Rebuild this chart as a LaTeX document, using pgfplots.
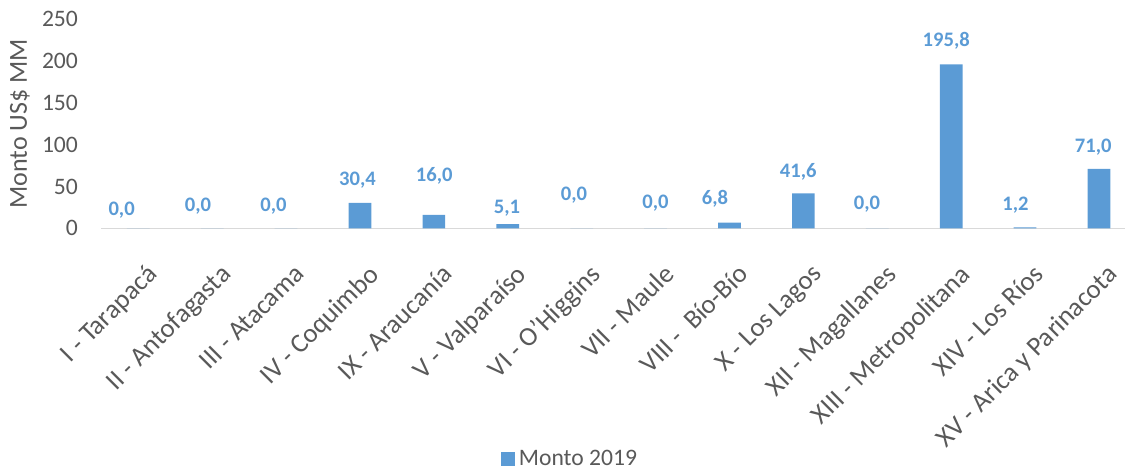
\documentclass[border=0pt]{standalone}
\usepackage{pgfplots}
\pgfplotsset{compat=1.18}
\usepackage{pgfplotstable}
\usepackage{fontspec}
\setmainfont{Carlito}
\definecolor{barblue}{HTML}{5B9BD5}
\definecolor{txtgray}{HTML}{595959}
\definecolor{axgray}{HTML}{D9D9D9}
\pgfplotstableread{
x y dx dy
0 0 -8.3 9.15
1 0 -7.1 11.15
2 0 -6.25 11.15
3 30.4 -1.25 11.55
4 16.0 0.2 19.7
5 5.1 -0.4 8.1
6 0 -3.85 16.4
7 0 0 12.65
8 6.8 -7.25 12.15
9 41.6 -2.55 10.9
10 0 -5.15 12.15
11 195.8 -2.45 11.75
12 1.2 -4.8 11.15
13 71.0 -2.85 10.9
}\datatable
\begin{document}
\begin{tikzpicture}
\begin{axis}[
  at={(0pt,0pt)}, anchor=south west,
  scale only axis,
  width=511.85pt, height=104.7pt,
  xmin=-0.5, xmax=13.352,
  ymin=0, ymax=250,
  ytick={0,50,100,150,200,250},
  xtick={0,...,13},
  xticklabels={I - Tarapacá, II - Antofagasta, III - Atacama, IV - Coquimbo, IX - Araucanía, V - Valparaíso, VI - O'Higgins, VII - Maule, VIII -\ \ Bío-Bío, X - Los Lagos, XII - Magallanes, XIII - Metropolitana, XIV - Los Ríos, XV - Arica y Parinacota},
  axis lines*=left,
  x axis line style={draw=axgray, line width=0.8pt},
  y axis line style={draw=none},
  major tick length=0pt,
  /pgf/number format/assume math mode=true,
  yticklabel style={font=\fontsize{11.8}{13}\selectfont, text=txtgray, inner sep=0pt, xshift=-11.5pt},
  xticklabel style={font=\fontsize{13.4}{15}\selectfont, text=txtgray, inner sep=0pt, anchor=north east, xshift=3.5pt, yshift=-17pt, rotate=45},
  every axis y label/.style={at={(axis description cs:-0.0794,0.5)}, anchor=center, rotate=90, font=\fontsize{13}{15}\selectfont, text=txtgray},
  ylabel={Monto US\$ MM},
  legend style={at={(0.4588,-1.1017)}, anchor=center, draw=none, font=\fontsize{11.8}{13}\selectfont, text=txtgray, inner sep=0pt},
  legend image code/.code={\fill[barblue] (0pt,-3.5pt) rectangle (7pt,3.5pt);},
]
\addplot[ybar, bar width=11.35pt, bar shift=0pt, fill=barblue, draw=none,
  visualization depends on={\thisrow{dx} \as \dx},
  visualization depends on={\thisrow{dy} \as \dy},
  nodes near coords={\pgfmathprintnumber[fixed,fixed zerofill,precision=1,use comma,assume math mode=true]{\pgfplotspointmeta}},
  nodes near coords style={font=\bfseries\fontsize{10.3}{12}\selectfont, text=barblue, anchor=center, xshift=\dx pt, yshift=\dy pt, inner sep=0pt},
] table[x=x, y=y] {\datatable};
\addlegendentry{Monto 2019}
\end{axis}
\pgfresetboundingbox
\path[use as bounding box] (-50.65pt,-121.85pt) rectangle (511.85pt,114.15pt);
\end{tikzpicture}
\end{document}
